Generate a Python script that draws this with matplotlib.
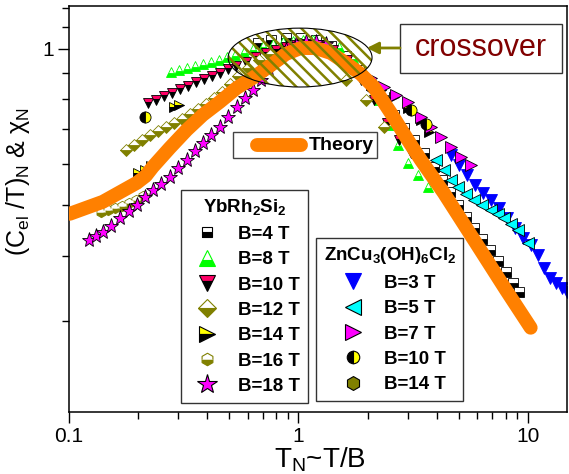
import numpy as np
import matplotlib.pyplot as plt
from matplotlib.lines import Line2D
from matplotlib.patches import Ellipse, Rectangle
from matplotlib.ticker import FixedLocator, FixedFormatter, NullFormatter

plt.rcParams['font.family'] = 'Liberation Sans'
plt.rcParams['mathtext.fontset'] = 'custom'
plt.rcParams['mathtext.rm'] = 'Liberation Sans'
plt.rcParams['mathtext.it'] = 'Liberation Sans:italic'
plt.rcParams['mathtext.bf'] = 'Liberation Sans:bold'

# theory curve
theory_x = [0.1008, 0.1404, 0.1974, 0.2161, 0.2318, 0.275, 0.326, 0.3828, 0.4541, 0.5384,
            0.6322, 0.7497, 0.8806, 1.023, 1.19, 1.383, 1.607, 1.868, 2.128, 2.525,
            2.994, 3.412, 4.297, 5.923, 8.006, 10.28]
theory_y = [0.4816, 0.5079, 0.5524, 0.5698, 0.5929, 0.645, 0.6986, 0.7466, 0.791, 0.8415,
            0.8794, 0.9275, 0.978, 1.0044, 1.004, 0.9825, 0.9399, 0.895, 0.845, 0.7534,
            0.6683, 0.6116, 0.5285, 0.4237, 0.344, 0.2906]

# YbRh2Si2
b4_x = [0.665, 0.757, 0.881, 1.023, 1.19, 1.383, 1.607, 1.831, 2.065, 2.329, 2.602, 2.876, 3.18,
        3.516, 3.886, 4.211, 4.563, 4.944, 5.358, 5.805, 6.29, 6.817, 7.385, 8.006, 8.586, 9.119]
b4_y = [1.027, 1.041, 1.050, 1.050, 1.041, 1.013, 0.969, 0.911, 0.852, 0.798, 0.746, 0.704, 0.668,
        0.630, 0.592, 0.559, 0.530, 0.5005, 0.4746, 0.4519, 0.4305, 0.410, 0.3905, 0.3718, 0.354, 0.340]

b8_x = [0.278, 0.301, 0.326, 0.353, 0.383, 0.415, 0.449, 0.487, 0.528, 0.578, 0.632, 0.699, 0.773,
        0.854, 0.945, 1.044, 1.154, 1.302, 1.498, 1.724, 1.965, 2.238, 2.474, 2.708, 2.994, 3.311, 3.66]
b8_y = [0.903, 0.911, 0.919, 0.927, 0.936, 0.944, 0.952, 0.965, 0.974, 0.987, 1.0, 1.013, 1.022,
        1.032, 1.036, 1.041, 1.041, 1.032, 1.009, 0.961, 0.891, 0.798, 0.714, 0.653, 0.603, 0.572, 0.542]

b10_x = [0.221, 0.239, 0.259, 0.281, 0.304, 0.329, 0.357, 0.387, 0.419, 0.454, 0.492, 0.533, 0.589,
         0.652, 0.720, 0.796, 0.881, 0.973, 1.076, 1.226, 1.411, 1.623, 1.868, 2.128, 2.425, 2.735, 3.086]
b10_y = [0.787, 0.798, 0.812, 0.823, 0.837, 0.849, 0.864, 0.875, 0.887, 0.899, 0.915, 0.927, 0.944,
         0.965, 0.982, 0.996, 1.009, 1.018, 1.022, 1.018, 0.996, 0.952, 0.872, 0.798, 0.720, 0.668, 0.630]

b12_x = [0.177, 0.192, 0.208, 0.225, 0.244, 0.264, 0.286, 0.310, 0.336, 0.364, 0.395, 0.428, 0.463,
         0.502, 0.544, 0.601, 0.671, 0.757, 1.607, 1.965, 2.353]
b12_y = [0.639, 0.653, 0.668, 0.683, 0.695, 0.708, 0.720, 0.733, 0.750, 0.766, 0.783, 0.805, 0.826,
         0.856, 0.887, 0.919, 0.952, 0.978, 0.872, 0.798, 0.708]

b14_x = [0.199, 0.214, 0.227, 0.286, 0.301, 2.284, 2.602, 2.994, 3.412, 3.697]
b14_y = [0.577, 0.585, 0.595, 0.773, 0.780, 0.834, 0.808, 0.770, 0.730, 0.692]

b16_x = [0.138, 0.148, 0.158, 0.170, 0.182, 0.195, 0.210]
b16_y = [0.485, 0.490, 0.494, 0.498, 0.505, 0.512, 0.521]

b18_x = [0.122, 0.131, 0.140, 0.152, 0.166, 0.182, 0.197, 0.214, 0.232, 0.251, 0.275, 0.298, 0.326,
         0.353, 0.383, 0.415, 0.454, 0.492, 0.538, 0.583, 0.632, 0.685, 0.742, 0.813, 0.881, 0.973,
         1.076, 1.19, 1.315]
b18_y = [0.429, 0.436, 0.444, 0.456, 0.473, 0.487, 0.501, 0.519, 0.535, 0.550, 0.567, 0.590, 0.611,
         0.636, 0.659, 0.683, 0.708, 0.740, 0.773, 0.805, 0.834, 0.872, 0.911, 0.961, 0.996, 1.022,
         1.032, 1.032, 1.022]

# ZnCu3(OH)6Cl2
z3_x = [4.61, 4.995, 5.412, 5.864, 6.353, 6.886, 7.46, 8.084, 8.76, 9.491, 10.28, 11.03, 11.72,
        12.45, 13.22, 14.04, 14.76]
z3_y = [0.625, 0.598, 0.572, 0.547, 0.528, 0.512, 0.494, 0.4725, 0.452, 0.4324, 0.419, 0.401, 0.378,
        0.362, 0.354, 0.3464, 0.340]

z5_x = [3.965, 4.297, 4.61, 4.944, 5.358, 5.805, 6.29, 6.886, 7.385, 7.846, 8.414, 9.028, 9.98]
z5_y = [0.611, 0.585, 0.559, 0.542, 0.5255, 0.512, 0.5005, 0.4896, 0.481, 0.4725, 0.46, 0.448, 0.423]

z7_x = [1.023, 1.251, 1.529, 1.777, 2.065, 2.353, 2.655, 2.994, 3.412, 3.772, 4.17, 4.61, 5.096, 5.634]
z7_y = [1.018, 1.004, 0.965, 0.919, 0.879, 0.845, 0.815, 0.790, 0.740, 0.708, 0.677, 0.647, 0.619, 0.598]

z10_x = [0.214, 3.086, 3.587]
z10_y = [0.740, 0.763, 0.717]

z14_x = [2.10, 2.40]
z14_y = [0.841, 0.780]

ybrh_labels = ['B=4 T', 'B=8 T', 'B=10 T', 'B=12 T', 'B=14 T', 'B=16 T', 'B=18 T']
zncu_labels = ['B=3 T', 'B=5 T', 'B=7 T', 'B=10 T', 'B=14 T']

olive = '#808000'
orange = '#ff8000'

ybrh_styles = [
    dict(marker='s', mfc='black', mfcalt='white', fillstyle='bottom', mec='black', ms=6.5, lms=7),
    dict(marker='^', mfc='#00ff00', mfcalt='white', fillstyle='bottom', mec='#00ff00', ms=7.5, lms=11),
    dict(marker='v', mfc='#ff0066', mfcalt='black', fillstyle='top', mec='black', ms=7.5, lms=11),
    dict(marker='D', mfc=olive, mfcalt='white', fillstyle='bottom', mec=olive, ms=6.5, lms=9),
    dict(marker='>', mfc='yellow', mfcalt='black', fillstyle='top', mec='black', ms=7.5, lms=11),
    dict(marker='h', mfc=olive, mfcalt='white', fillstyle='bottom', mec=olive, ms=7.5, lms=9),
    dict(marker='*', mfc='magenta', mfcalt='magenta', fillstyle='full', mec='black', ms=11, lms=15),
]
zncu_styles = [
    dict(marker='v', mfc='blue', mfcalt='blue', fillstyle='full', mec='blue', ms=8, lms=11),
    dict(marker='<', mfc='cyan', mfcalt='cyan', fillstyle='full', mec='black', ms=8, lms=11),
    dict(marker='>', mfc='magenta', mfcalt='magenta', fillstyle='full', mec='black', ms=8, lms=11),
    dict(marker='o', mfc='black', mfcalt='yellow', fillstyle='left', mec='black', ms=8, lms=9),
    dict(marker='h', mfc=olive, mfcalt=olive, fillstyle='full', mec='black', ms=8, lms=10),
]

ybrh_data = [(b4_x, b4_y), (b8_x, b8_y), (b10_x, b10_y), (b12_x, b12_y),
             (b14_x, b14_y), (b16_x, b16_y), (b18_x, b18_y)]
zncu_data = [(z3_x, z3_y), (z5_x, z5_y), (z7_x, z7_y), (z10_x, z10_y), (z14_x, z14_y)]

fig = plt.figure(figsize=(5.69, 4.74), dpi=100)
ax = fig.add_axes([69 / 569, 1 - 412 / 474, 498 / 569, 406 / 474])
ax.set_xscale('log')
ax.set_yscale('log')
ax.set_xlim(0.1, 14.8)
ax.set_ylim(0.2, 1.21)


def draw(xy, st, z):
    ax.plot(xy[0], xy[1], ls='none', marker=st['marker'], ms=st['ms'], mfc=st['mfc'],
            markerfacecoloralt=st['mfcalt'], fillstyle=st['fillstyle'], mec=st['mec'],
            mew=0.6, zorder=z)


def handle(st):
    return Line2D([], [], ls='none', marker=st['marker'], ms=st['lms'], mfc=st['mfc'],
                  markerfacecoloralt=st['mfcalt'], fillstyle=st['fillstyle'], mec=st['mec'],
                  mew=0.8)


for xy, st in zip(ybrh_data, ybrh_styles):
    draw(xy, st, 2)
for xy, st in zip(zncu_data, zncu_styles):
    draw(xy, st, 2.5)

ax.plot(theory_x, theory_y, color=orange, lw=10, solid_capstyle='round',
        solid_joinstyle='round', zorder=4)

# hatched crossover ellipse
ell = Ellipse((0.464, 0.873), 0.289, 0.145, transform=ax.transAxes, facecolor='none',
              edgecolor='black', lw=0.8, zorder=6)
ax.add_patch(ell)
t = np.linspace(-120, 120, 2)
for off in np.arange(-160, 170, 12.7):
    lx = 0.464 + (off + t) / 498
    ly = 0.873 - t / 406
    ln, = ax.plot(lx, ly, color=olive, lw=1.8, transform=ax.transAxes, zorder=5.5)
    ln.set_clip_path(ell)

# crossover box and arrow
ax.add_patch(Rectangle((0.6647, 0.835), 0.325, 0.1207, transform=ax.transAxes,
                       facecolor='white', edgecolor='#333333', lw=1, zorder=6))
ax.text(0.827, 0.897, 'crossover', transform=ax.transAxes, ha='center', va='center',
        fontsize=22, color='#800000', zorder=7)
ax.annotate('', xy=(0.598, 0.8966), xytext=(0.6647, 0.8966), xycoords='axes fraction',
            arrowprops=dict(arrowstyle='-|>,head_length=0.7,head_width=0.35', color=olive,
                            lw=2, shrinkA=0, shrinkB=0), zorder=6)

# theory key
ax.add_patch(Rectangle((0.3293, 0.6256), 0.2892, 0.064, transform=ax.transAxes,
                       facecolor='white', edgecolor='#444444', lw=1, zorder=6))
ax.plot([0.3775, 0.4659], [0.6576, 0.6576], color=orange, lw=10, solid_capstyle='round',
        transform=ax.transAxes, zorder=7)
ax.text(0.4819, 0.6576, 'Theory', transform=ax.transAxes, ha='left', va='center',
        fontsize=14, fontweight='bold', zorder=7)

leg_kw = dict(loc='upper left', frameon=True, fancybox=False, edgecolor='#333333',
              framealpha=1, prop={'weight': 'bold', 'size': 13.5},
              title_fontproperties={'weight': 'bold', 'size': 13.5},
              handlelength=2.0, handletextpad=0.65, labelspacing=0.44, borderpad=0.4,
              borderaxespad=0)
leg1 = ax.legend([handle(s) for s in ybrh_styles], ybrh_labels,
                 title=r'YbRh$_\mathbf{2}$Si$_\mathbf{2}$', bbox_to_anchor=(0.225, 0.547),
                 **leg_kw)
leg1.get_frame().set_linewidth(1)
leg1.set_zorder(8)
ax.add_artist(leg1)
leg2 = ax.legend([handle(s) for s in zncu_styles], zncu_labels,
                 title=r'ZnCu$_\mathbf{3}$(OH)$_\mathbf{6}$Cl$_\mathbf{2}$',
                 bbox_to_anchor=(0.496, 0.4286), **leg_kw)
leg2.get_frame().set_linewidth(1)
leg2.set_zorder(8)

# axes styling
ax.xaxis.set_major_locator(FixedLocator([0.1, 1, 10]))
ax.xaxis.set_major_formatter(FixedFormatter(['0.1', '1', '10']))
ax.xaxis.set_minor_locator(FixedLocator([0.2, 0.3, 0.4, 0.5, 0.6, 0.7, 0.8, 0.9,
                                         2, 3, 4, 5, 6, 7, 8, 9]))
ax.xaxis.set_minor_formatter(NullFormatter())
ax.yaxis.set_major_locator(FixedLocator([1]))
ax.yaxis.set_major_formatter(FixedFormatter(['1']))
ax.yaxis.set_minor_locator(FixedLocator([0.3, 0.4, 0.5, 0.6, 0.7, 0.8, 0.9, 1.1, 1.2]))
ax.yaxis.set_minor_formatter(NullFormatter())
ax.tick_params(which='both', direction='out', top=False, right=False, width=1,
               labelsize=15, pad=3)
ax.tick_params(which='major', length=8)
ax.tick_params(which='minor', length=5)
for sp in ax.spines.values():
    sp.set_linewidth(1.1)

ax.set_xlabel(r'T$_{\rm N}$~T/B', fontsize=20)
ax.set_ylabel(r'(C$_{\rm el}$ /T)$_{\rm N}$ & χ$_{\rm N}$', fontsize=18)
ax.xaxis.set_label_coords(0.504, -0.083)
ax.yaxis.set_label_coords(-0.075, 0.569)

fig.savefig('out.png', dpi=100)
